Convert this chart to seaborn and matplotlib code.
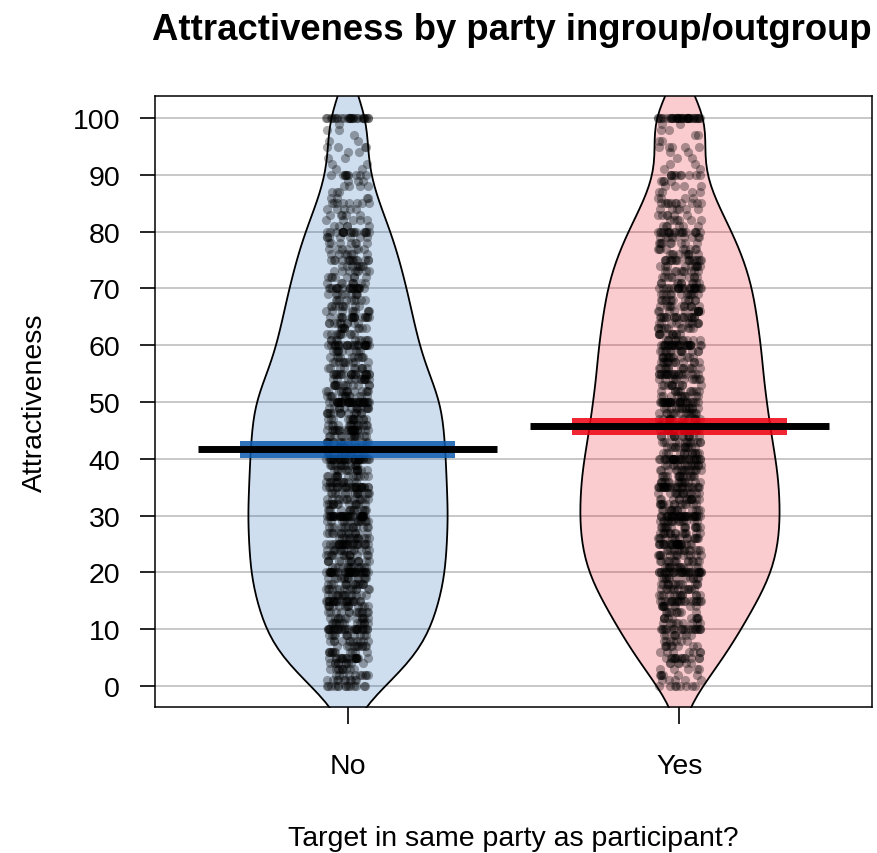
import numpy as np
import pandas as pd
import seaborn as sns
import matplotlib.pyplot as plt
from matplotlib.colors import to_rgba

# Attractiveness ratings (0-100) -> number of ratings at each value
ratings = np.arange(0, 101)

counts_no = [
    14, 10, 10, 10, 10, 20, 11, 11, 11, 11,
    30, 13, 13, 13, 13, 24, 14, 14, 14, 14,
    37, 14, 14, 14, 14, 27, 14, 14, 14, 14,
    40, 14, 14, 14, 14, 27, 14, 14, 14, 14,
    37, 14, 14, 14, 14, 24, 14, 14, 14, 14,
    38, 13, 13, 13, 13, 21, 10, 10, 10, 10,
    26, 10, 10, 10, 10, 18, 9, 9, 9, 9,
    21, 8, 8, 8, 8, 14, 7, 7, 7, 7,
    18, 5, 5, 5, 5, 8, 4, 3, 4, 3,
    10, 2, 2, 2, 2, 4, 2, 1, 2, 1,
    26,
]

counts_yes = [
    8, 5, 6, 5, 6, 14, 7, 8, 7, 8,
    21, 9, 10, 9, 10, 22, 13, 13, 13, 13,
    32, 14, 14, 14, 14, 28, 15, 15, 15, 15,
    34, 14, 14, 14, 14, 28, 15, 15, 15, 15,
    33, 13, 13, 13, 13, 22, 14, 14, 14, 14,
    31, 11, 11, 11, 11, 22, 13, 13, 13, 13,
    28, 11, 11, 11, 11, 19, 12, 12, 12, 12,
    24, 10, 10, 10, 10, 18, 9, 9, 9, 9,
    19, 6, 6, 6, 6, 11, 4, 4, 4, 4,
    10, 2, 2, 2, 2, 5, 2, 2, 2, 2,
    38,
]

groups = ['No', 'Yes']
bean_colors = ['#0C5BB0', '#EE0011']
# half-height of the inference band around each mean
band_half = [1.45, 1.55]

df = pd.concat([
    pd.DataFrame({'same_party': 'No', 'attractiveness': np.repeat(ratings, counts_no)}),
    pd.DataFrame({'same_party': 'Yes', 'attractiveness': np.repeat(ratings, counts_yes)}),
], ignore_index=True)

means = df.groupby('same_party')['attractiveness'].mean().loc[groups]

sns.set_style('white')
plt.rcParams['font.family'] = ['Liberation Sans', 'DejaVu Sans']
plt.rcParams['text.color'] = 'black'
plt.rcParams['axes.labelcolor'] = 'black'
plt.rcParams['xtick.color'] = 'black'
plt.rcParams['ytick.color'] = 'black'

fig = plt.figure(figsize=(8.77, 8.54), dpi=100)
ax = fig.add_axes([0.1767, 0.171, 0.8176, 0.7154])

ax.yaxis.grid(True, color='#C4C4C4', linewidth=1.3)
ax.set_axisbelow(True)

sns.violinplot(data=df, x='same_party', y='attractiveness', hue='same_party',
               order=groups, hue_order=groups, palette=bean_colors,
               inner=None, width=0.6, density_norm='width', cut=3,
               bw_adjust=0.9, linecolor='black', linewidth=1.3,
               legend=False, ax=ax)
for coll, col in zip(ax.collections, bean_colors):
    coll.set_facecolor(to_rgba(col, 0.2))
    coll.set_edgecolor('black')

np.random.seed(3)
sns.stripplot(data=df, x='same_party', y='attractiveness', order=groups,
              color='black', alpha=0.33, size=6.6, jitter=0.065, linewidth=0,
              ax=ax, zorder=3)

# inference band + mean line
for i, g in enumerate(groups):
    m = means[g]
    ax.fill_between([i - 0.325, i + 0.325], m - band_half[i], m + band_half[i],
                    color=bean_colors[i], alpha=0.85, linewidth=0, zorder=4)
    ax.hlines(m, i - 0.45, i + 0.45, color='black', linewidth=5, zorder=5)

ax.set_xlim(-0.58, 1.58)
ax.set_ylim(-3.7, 103.9)
ax.set_yticks(range(0, 101, 10))
ax.tick_params(axis='y', labelsize=20.5, length=11, width=1.2, pad=14,
               left=True)
ax.tick_params(axis='x', labelsize=20.5, length=12, width=1.2, pad=21,
               bottom=True)
for s in ax.spines.values():
    s.set_visible(True)
    s.set_color('black')
    s.set_linewidth(1.1)

ax.set_xlabel('Target in same party as participant?', fontsize=20.5, labelpad=33)
ax.set_ylabel('Attractiveness', fontsize=20.5, labelpad=18)
fig.text(0.584, 1 - 40 / 854, 'Attractiveness by party ingroup/outgroup',
         ha='center', va='baseline', fontsize=26.3, fontweight='bold')

fig.savefig('out.png', dpi=100)
